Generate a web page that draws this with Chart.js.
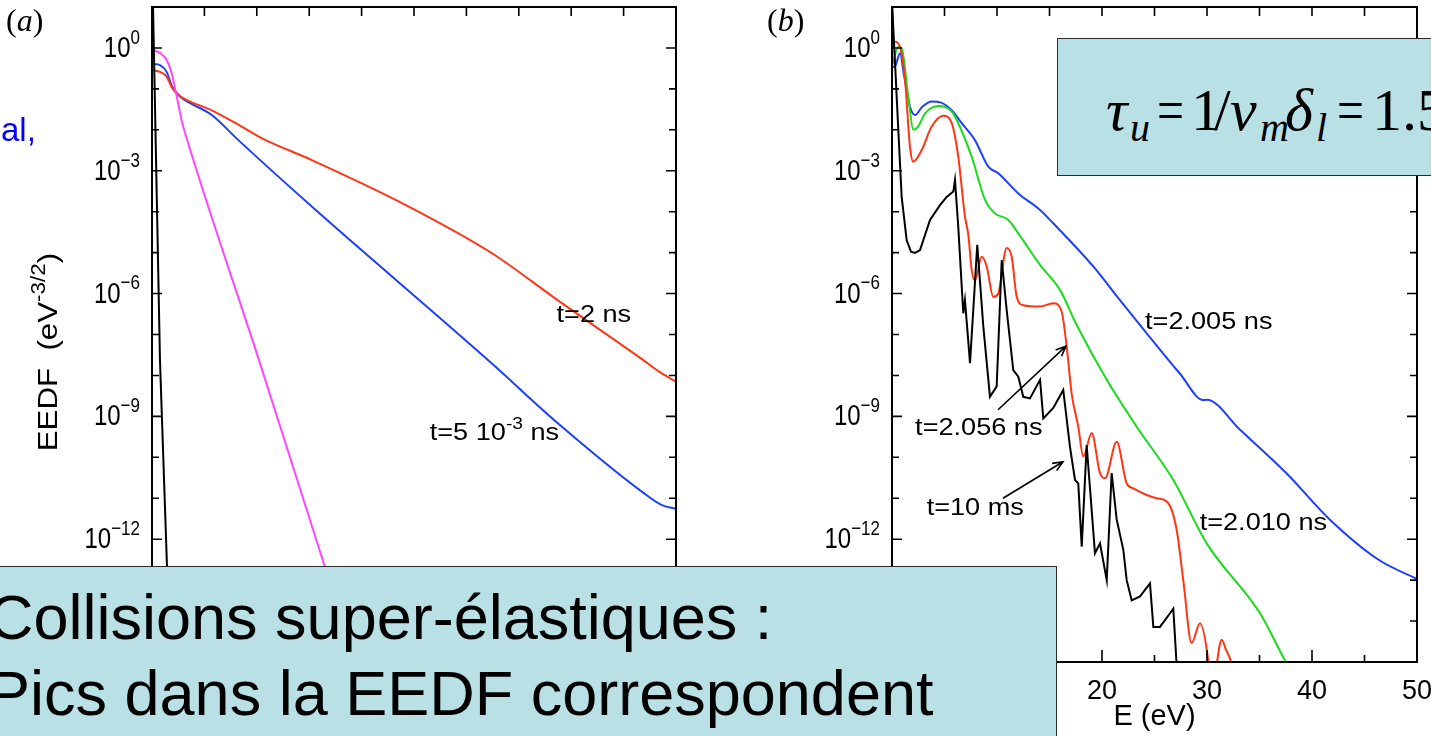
<!DOCTYPE html>
<html>
<head>
<meta charset="utf-8">
<script src="https://cdn.jsdelivr.net/npm/chart.js@4.4.0/dist/chart.umd.min.js"></script>
<style>
  body { margin:0; width:1431px; height:736px; overflow:hidden; background:#fff; position:relative;
         font-family:"Liberation Sans", Arial, sans-serif; }
  .plot { position:absolute; left:0; top:0; width:1431px; height:736px; }
  .box { position:absolute; background:#b9e0e4; border:1.5px solid #2b2b2b; box-sizing:border-box; }
  .tag { position:absolute; font:32px/32px "Liberation Serif", "Times New Roman", serif; color:#000; }
  .big { position:absolute; left:-12px; font:63px/76px "Liberation Sans", Arial, sans-serif; white-space:nowrap; color:#000; }
  .fm { position:absolute; font:60px/60px "Liberation Serif", "Times New Roman", serif; color:#000; white-space:nowrap; }
  .fm.eq { transform:scaleX(0.8); transform-origin:left center; }
  .fs { position:absolute; font:italic 40px/40px "Liberation Serif", "Times New Roman", serif; color:#000; white-space:nowrap; }
</style>
</head>
<body>
<div class="plot"><canvas id="chartA"></canvas></div>
<div class="plot"><canvas id="chartB"></canvas></div>

<div class="tag" style="left:6px; top:4px;">(<i>a</i>)</div>
<div class="tag" style="left:767px; top:4px;">(<i>b</i>)</div>
<div style="position:absolute; left:1px; top:110px; font:33px/40px 'Liberation Sans', Arial; color:#0000ff;">al,</div>

<div class="box" style="left:1057px; top:38px; width:420px; height:138px;"></div>
<!-- formula, glyph by glyph: baseline 130, subscripts baseline 142 -->
<span class="fm" style="left:1106px; top:80px;"><i>τ</i></span>
<span class="fs" style="left:1130px; top:108px;">u</span>
<span class="fm eq" style="left:1157px; top:80px;">=</span>
<span class="fm" style="left:1191px; top:80px;">1</span>
<span class="fm" style="left:1214px; top:80px;">/</span>
<span class="fm" style="left:1230px; top:80px;"><i>v</i></span>
<span class="fs" style="left:1260px; top:108px;">m</span>
<span class="fm" style="left:1285px; top:80px;"><i>δ</i></span>
<span class="fs" style="left:1316px; top:108px;">l</span>
<span class="fm eq" style="left:1337px; top:80px;">=</span>
<span class="fm" style="left:1372px; top:80px;">1.5</span>

<div class="box" style="left:-10px; top:566px; width:1067px; height:190px;"></div>
<div class="big" style="top:579px;">Collisions super-élastiques :</div>
<div class="big" style="top:655px;">Pics dans la EEDF correspondent</div>

<script>
// (a) EEDF vs energy
const aE_black = [0, 0.1, 0.76, 1.43, 1.9];
const aV_black = [160, 10, 2.4e-8, 2.2e-13, 1e-16];
const aE_magenta = [0.03, 0.76, 1.4, 1.88, 2.36, 2.83, 3.31, 10.2, 16.5, 20.7];
const aV_magenta = [0.89, 0.76, 0.51, 0.24, 0.065, 0.017, 6.2e-3, 2.4e-8, 2.1e-13, 8.9e-17];
const aE_blue = [0.03, 0.76, 1.4, 1.88, 2.36, 3.0, 5.7, 8.24, 15.3, 32.3, 38.7, 46.9, 48.6, 50];
const aV_blue = [0.41, 0.38, 0.26, 0.12, 0.078, 0.056, 0.023, 5.6e-3, 1.3e-4, 2.1e-8, 6.9e-10, 1.35e-11, 6.9e-12, 5.5e-12];
const aE_red = [0.03, 0.76, 1.4, 1.88, 2.36, 3.0, 5.7, 8.56, 10.5, 15.3, 23.9, 32.4, 38.7, 46.85, 48.57, 50];
const aV_red = [0.29, 0.26, 0.2, 0.11, 0.078, 0.059, 0.03, 0.012, 6.2e-3, 1.8e-3, 1.6e-4, 9.8e-6, 6.9e-7, 2.4e-8, 1.15e-8, 7.1e-9];

// (b)
const bE_blue = [0.03, 0.24, 0.76, 1.14, 1.71, 2.19, 2.86, 3.78, 4.67, 5.69, 6.64, 7.9, 9.17, 10.12, 12.03, 14.1,
                 15.36, 19.17, 21.71, 24.26, 27.43, 29.65, 29.97, 33.14, 37.52, 41.71, 46.38, 50];
const bV_blue = [0.35, 0.34, 0.74, 0.22, 0.037, 0.023, 0.036, 0.049, 0.046, 0.03, 0.0145, 5.6e-3, 1.26e-3, 8.7e-4, 2.8e-4, 1.1e-4,
                 5.2e-5, 4.6e-6, 6.9e-7, 1.07e-7, 1.1e-8, 2.5e-9, 2.55e-9, 4.7e-10, 4.2e-11, 3.0e-12, 3.1e-13, 1.07e-13];
const bE_green = [0.03, 0.6, 0.92, 1.55, 2.03, 2.48, 3.14, 4.41, 5.69, 6.31, 7.59, 8.86, 9.81, 11.08, 12.03, 14.1,
                  16.0, 17.59, 20.45, 23.3, 26.79, 29.97, 35.05, 37.5, 38.5];
const bV_green = [0.38, 1.07, 0.98, 0.065, 0.01, 0.012, 0.025, 0.038, 0.028, 0.0145, 2.2e-3, 1.95e-4, 9.1e-5, 6.3e-5, 2.95e-5, 5.0e-6,
                  1.23e-6, 1.7e-7, 7.8e-9, 5.6e-10, 2.8e-11, 7.9e-13, 1.55e-14, 1.02e-15, 4e-16];
const bE_red = [0.03, 0.29, 0.76, 1.24, 1.71, 2.03, 2.83, 3.78, 4.89, 5.69, 6.31, 6.95, 7.27, 7.59, 7.9, 8.54, 9.02, 9.65,
                10.12, 10.92, 11.4, 11.88, 12.5, 14.1, 15.36, 16.16, 16.64, 17.11, 17.74, 18.22, 19.02, 19.81, 20.29,
                21.4, 22.35, 22.98, 24.26, 25.21, 26.31, 27.11, 27.74, 28.54, 29.33, 30.12, 30.5, 30.92, 31.4, 31.8, 32.35, 32.8];
const bV_red = [1.17, 1.41, 1.07, 0.166, 3.9e-3, 1.66e-3, 3.2e-3, 0.012, 0.022, 0.0145, 2.2e-3, 7.6e-5, 2.7e-5, 3.8e-6, 2.1e-6, 7.9e-6, 4.6e-6, 8.3e-7,
                1.0e-6, 1.3e-5, 7.9e-6, 8.3e-7, 5.2e-7, 4.8e-7, 5.8e-7, 3.6e-7, 5.0e-8, 3.6e-9, 5.6e-10, 1.05e-10, 3.9e-10, 4.1e-11, 3.1e-11,
                2.4e-10, 2.3e-11, 1.74e-11, 1.2e-11, 1.0e-11, 7.6e-12, 1.7e-12, 1.0e-13, 2.9e-15, 8.9e-15, 1.1e-15, 1e-16, 8.5e-16, 3.5e-15, 2.0e-15, 8.5e-16, 1e-16];
const bE_black = [0, 0.13, 0.29, 0.6, 0.92, 1.4, 1.81, 2.19, 2.67, 3.62, 4.57, 5.21, 5.84, 6.0, 6.31, 6.79, 6.95, 7.43, 8.12, 8.7,
                  9.33, 9.97, 10.45, 10.92, 11.55, 12.03, 12.5, 13.14, 14.1, 14.41, 15.36, 16.31, 16.95, 17.43, 17.74, 18.07,
                  18.54, 19.33, 19.81, 20.45, 20.92, 21.4, 22.03, 22.35, 22.83, 23.62, 24.57, 24.89, 25.52, 26.48, 26.79, 27.11, 27.2];
const bV_black = [15.8, 2.75, 0.42, 0.01, 2.3e-4, 2.0e-5, 1.05e-5, 9.8e-6, 1.15e-5, 6.3e-5, 1.45e-4, 2.3e-4, 3.1e-4, 5.9e-4, 4.3e-5, 3.3e-7, 6.9e-7, 2.0e-8, 1.55e-5, 1.55e-7,
                  3.0e-9, 5.4e-9, 6.6e-6, 4.0e-7, 1.35e-8, 9.3e-9, 3.0e-9, 2.75e-9, 7.8e-9, 8.9e-10, 1.6e-9, 4.4e-9, 1.8e-10, 2.8e-11, 2.3e-11, 6.6e-13,
                  2.0e-10, 4.5e-13, 7.9e-13, 1.0e-13, 4.1e-11, 3.0e-12, 5.5e-13, 1.0e-13, 3.2e-14, 4.0e-14, 8.3e-14, 7.2e-15, 7.2e-15, 1.55e-14, 2.0e-14, 8.5e-16, 1e-16];

const yLabelExp = [0, -3, -6, -9, -12];

const FONT = '"Liberation Sans", Arial, sans-serif';

function pts(es, vs) {
  return es.map((e, i) => ({ x: e, y: vs[i] }));
}

function line(es, vs, color, smooth) {
  return {
    data: pts(es, vs),
    borderColor: color,
    borderWidth: 2,
    pointRadius: 0,
    fill: false,
    cubicInterpolationMode: smooth ? 'monotone' : 'default',
    tension: 0
  };
}

// text with superscripts; sx/sy stretch it like the glyphs of the original figure
function supText(ctx, x, y, parts, size, supSize, rise, sx, sy) {
  ctx.save();
  ctx.translate(x, y);
  ctx.scale(sx, sy);
  let cx = 0;
  parts.forEach(p => {
    ctx.font = (p.sup ? supSize : size) + 'px ' + FONT;
    ctx.fillText(p.t, cx, p.sup ? -rise : 0);
    cx += ctx.measureText(p.t).width;
  });
  ctx.restore();
  return cx * sx;
}

function partsWidth(ctx, parts, size, supSize) {
  let w = 0;
  parts.forEach(p => { ctx.font = (p.sup ? supSize : size) + 'px ' + FONT; w += ctx.measureText(p.t).width; });
  return w;
}

const frame = {
  id: 'frame',
  afterDatasetsDraw(chart, args, opts) {
    const { ctx, chartArea: a, scales: { x, y } } = chart;
    ctx.save();
    ctx.strokeStyle = '#000';
    ctx.fillStyle = '#000';
    ctx.lineWidth = 1.6;
    ctx.beginPath();
    for (let k = -14; k <= 0; k++) {
      const py = y.getPixelForValue(Math.pow(10, k));
      const len = k % 3 === 0 ? 10 : 7;
      ctx.moveTo(a.left, py); ctx.lineTo(a.left + len, py);
      ctx.moveTo(a.right, py); ctx.lineTo(a.right - len, py);
    }
    for (let e = 5; e < 50; e += 5) {
      const px = x.getPixelForValue(e);
      ctx.moveTo(px, a.top); ctx.lineTo(px, a.top + 9);
      ctx.moveTo(px, a.bottom); ctx.lineTo(px, a.bottom - (e % 10 === 0 ? 12 : 7));
    }
    ctx.stroke();
    ctx.lineWidth = 2;
    ctx.strokeRect(a.left, a.top, a.right - a.left, a.bottom - a.top);

    // y tick labels 10^k
    ctx.textBaseline = 'middle';
    ctx.textAlign = 'left';
    yLabelExp.forEach(k => {
      const py = y.getPixelForValue(Math.pow(10, k));
      const parts = [{ t: '10' }, { t: k === 0 ? '0' : '\u2212' + (-k), sup: true }];
      const w = partsWidth(ctx, parts, 24, 17);
      supText(ctx, a.left - 12 - w, py + 1, parts, 24, 17, 9, 1, 1.2);
    });

    // y axis title, reading upwards
    if (opts.yTitle) {
      ctx.save();
      ctx.translate(57, 352);
      ctx.rotate(-Math.PI / 2);
      ctx.textBaseline = 'alphabetic';
      const parts = [{ t: 'EEDF  (eV' }, { t: '-3/2', sup: true }, { t: ')' }];
      const w = partsWidth(ctx, parts, 25, 18) * 1.25;
      supText(ctx, -w / 2, 0, parts, 25, 18, 11, 1.25, 1.1);
      ctx.restore();
    }

    // curve labels
    ctx.textBaseline = 'middle';
    (opts.labels || []).forEach(l => {
      supText(ctx, x.getPixelForValue(l.e), y.getPixelForValue(l.v), l.parts, 24, 17, 9, 1.13, 1);
    });

    // arrows
    ctx.lineWidth = 1.6;
    (opts.arrows || []).forEach(r => {
      const x1 = x.getPixelForValue(r[0]), y1 = y.getPixelForValue(r[1]);
      const x2 = x.getPixelForValue(r[2]), y2 = y.getPixelForValue(r[3]);
      const ang = Math.atan2(y2 - y1, x2 - x1);
      ctx.beginPath();
      ctx.moveTo(x1, y1); ctx.lineTo(x2, y2);
      ctx.moveTo(x2 - 11 * Math.cos(ang - 0.4), y2 - 11 * Math.sin(ang - 0.4));
      ctx.lineTo(x2, y2);
      ctx.lineTo(x2 - 11 * Math.cos(ang + 0.4), y2 - 11 * Math.sin(ang + 0.4));
      ctx.stroke();
    });
    ctx.restore();
  }
};

function makeConfig(datasets, padLeft, padRight, extra) {
  return {
    type: 'line',
    data: { datasets: datasets },
    options: {
      responsive: true,
      maintainAspectRatio: false,
      animation: false,
      layout: { padding: { left: padLeft, right: padRight, top: 7, bottom: 0 } },
      scales: {
        x: {
          type: 'linear', min: 0, max: 50,
          // keep the plot box fixed even when the end labels stick out
          afterFit: s => { s.height = 74; s.paddingLeft = 0; s.paddingRight = 0; },
          grid: { display: false },
          border: { display: false },
          ticks: { stepSize: 10, color: '#000', padding: 5, maxRotation: 0, font: { family: FONT, size: 27 } },
          title: {
            display: extra.xTitle, text: 'E (eV)', color: '#000',
            font: { family: FONT, size: 29 }, padding: { top: 0, bottom: 2 }
          }
        },
        y: {
          type: 'logarithmic', min: 1e-15, max: 10,
          afterFit: s => { s.width = 152; },
          grid: { display: false },
          border: { display: false },
          ticks: { display: false }
        }
      },
      plugins: {
        legend: { display: false },
        tooltip: { enabled: false },
        frame: extra
      }
    },
    plugins: [frame]
  };
}

new Chart(document.getElementById('chartA'), makeConfig([
  line(aE_black, aV_black, '#000000', false),
  line(aE_magenta, aV_magenta, '#ff45ff', true),
  line(aE_red, aV_red, '#ff3616', true),
  line(aE_blue, aV_blue, '#1f3fff', true)
], 0, 755, {
  yTitle: true,
  xTitle: false,
  labels: [
    { e: 38.6, v: 3.0e-7, parts: [{ t: 't=2 ns' }] },
    { e: 26.5, v: 3.9e-10, parts: [{ t: 't=5 10' }, { t: '-3', sup: true }, { t: ' ns' }] }
  ]
}));

new Chart(document.getElementById('chartB'), makeConfig([
  line(bE_black, bV_black, '#000000', false),
  line(bE_red, bV_red, '#ff3616', true),
  line(bE_green, bV_green, '#18dd18', true),
  line(bE_blue, bV_blue, '#1f3fff', true)
], 740, 14, {
  yTitle: false,
  xTitle: true,
  labels: [
    { e: 24.1, v: 2.0e-7, parts: [{ t: 't=2.005 ns' }] },
    { e: 2.2, v: 5.2e-10, parts: [{ t: 't=2.056 ns' }] },
    { e: 3.3, v: 5.8e-12, parts: [{ t: 't=10 ms' }] },
    { e: 29.3, v: 2.5e-12, parts: [{ t: 't=2.010 ns' }] }
  ],
  arrows: [[10.1, 1.45e-9, 16.57, 5.2e-8], [10.57, 1.0e-11, 16.29, 7.8e-11]]
}));
</script>
</body>
</html>
